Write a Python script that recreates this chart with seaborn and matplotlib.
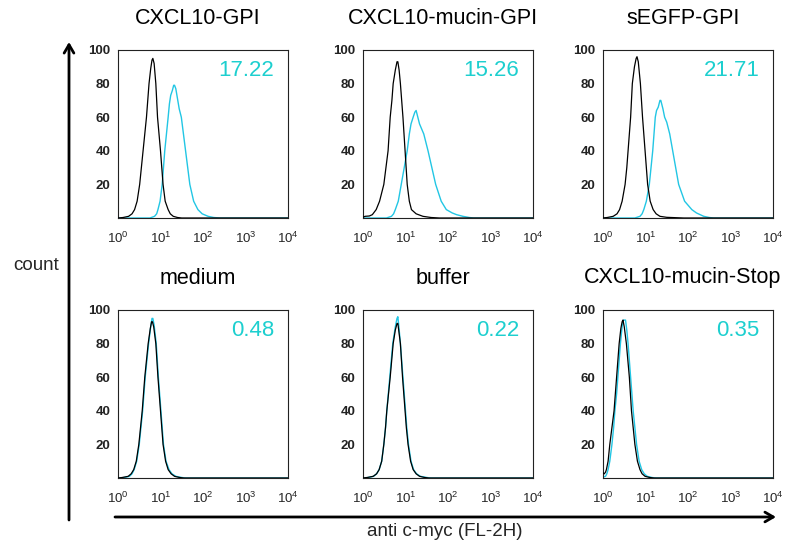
import numpy as np
import pandas as pd
import matplotlib
matplotlib.use("Agg")
import matplotlib.pyplot as plt
from matplotlib.ticker import FixedLocator, MultipleLocator, LogLocator, NullFormatter
import seaborn as sns

# ---------------- data ----------------
titles = ["CXCL10-GPI", "CXCL10-mucin-GPI", "sEGFP-GPI",
          "medium", "buffer", "CXCL10-mucin-Stop"]
percent_labels = ["17.22", "15.26", "21.71", "0.48", "0.22", "0.35"]

# control (black) histograms: log10(FL-2H) position and count
ctrl_logx = [
    [0.0, 0.12, 0.25, 0.33, 0.39, 0.45, 0.51, 0.55, 0.59, 0.63, 0.67, 0.70, 0.73, 0.77, 0.80, 0.82,
     0.85, 0.89, 0.91, 0.93, 0.965, 1.0, 1.03, 1.06, 1.11, 1.18, 1.23, 1.3, 1.4, 1.5, 4.0],
    [0.0, 0.05, 0.15, 0.22, 0.31, 0.39, 0.49, 0.54, 0.59, 0.615, 0.64, 0.68, 0.71, 0.76, 0.80, 0.82,
     0.85, 0.88, 0.91, 0.94, 0.965, 0.99, 1.015, 1.04, 1.09, 1.14, 1.25, 1.41, 1.6, 1.8, 4.0],
    [0.0, 0.1, 0.24, 0.33, 0.39, 0.45, 0.52, 0.56, 0.59, 0.62, 0.65, 0.67, 0.69, 0.74, 0.78, 0.80,
     0.83, 0.88, 0.905, 0.93, 0.96, 0.99, 1.02, 1.05, 1.11, 1.18, 1.25, 1.34, 1.5, 1.9, 4.0],
    [0.0, 0.1, 0.24, 0.31, 0.37, 0.43, 0.49, 0.53, 0.57, 0.60, 0.63, 0.67, 0.71, 0.76, 0.79, 0.81,
     0.84, 0.89, 0.915, 0.94, 0.97, 1.0, 1.03, 1.06, 1.12, 1.18, 1.25, 1.33, 1.45, 1.55, 4.0],
    [0.0, 0.1, 0.24, 0.32, 0.38, 0.44, 0.49, 0.53, 0.56, 0.60, 0.64, 0.675, 0.71, 0.76, 0.80, 0.82,
     0.84, 0.88, 0.905, 0.93, 0.96, 0.99, 1.02, 1.06, 1.12, 1.18, 1.25, 1.33, 1.45, 1.55, 4.0],
    [0.0, 0.03, 0.06, 0.08, 0.12, 0.16, 0.21, 0.26, 0.29, 0.32, 0.35, 0.38, 0.42, 0.45, 0.47,
     0.50, 0.55, 0.585, 0.62, 0.645, 0.67, 0.71, 0.75, 0.81, 0.87, 0.92, 0.99, 1.1, 1.2, 4.0],
]
ctrl_count = [
    [0, 0.3, 1, 2.5, 5, 10, 20, 30, 40, 50, 60, 70, 80, 89, 94, 95,
     92, 80, 70, 60, 50, 40, 30, 20, 10, 5, 2.5, 1, 0.3, 0, 0],
    [0.5, 1, 1.2, 2, 5, 10, 20, 30, 40, 50, 60, 70, 80, 88, 93, 93,
     88, 80, 70, 60, 50, 40, 30, 20, 10, 5, 2.5, 1, 0.3, 0, 0],
    [0, 0.3, 1, 2.5, 5, 10, 20, 30, 40, 50, 60, 70, 80, 90, 95, 96,
     93, 80, 70, 60, 50, 40, 30, 20, 10, 5, 2.5, 1, 0.4, 0, 0],
    [0, 0.3, 1, 2.5, 5, 10, 20, 30, 40, 50, 60, 70, 80, 89, 93, 93,
     90, 80, 70, 60, 50, 40, 30, 20, 10, 5, 2.5, 1, 0.3, 0, 0],
    [0, 0.3, 1, 2.5, 5, 10, 20, 30, 40, 50, 60, 70, 80, 88, 92, 92,
     88, 80, 70, 60, 50, 40, 30, 20, 10, 5, 2.5, 1, 0.3, 0, 0],
    [3, 2.5, 3.5, 5, 10, 20, 30, 40, 50, 60, 70, 80, 89, 93, 94,
     90, 80, 70, 60, 50, 40, 30, 20, 10, 5, 2.5, 1, 0.3, 0, 0],
]

# anti c-myc stained (cyan) histograms: log10(FL-2H) position and count
stain_logx = [
    [0.0, 0.75, 0.86, 0.91, 0.94, 0.99, 1.04, 1.07, 1.10, 1.14, 1.18, 1.21, 1.24, 1.28, 1.31, 1.33,
     1.36, 1.40, 1.44, 1.49, 1.54, 1.59, 1.64, 1.69, 1.78, 1.88, 1.98, 2.12, 2.25, 2.4, 4.0],
    [0.0, 0.55, 0.67, 0.72, 0.76, 0.83, 0.90, 0.97, 1.04, 1.09, 1.13, 1.18, 1.22, 1.25, 1.29, 1.33,
     1.38, 1.43, 1.48, 1.53, 1.62, 1.71, 1.84, 1.96, 2.1, 2.2, 2.35, 2.5, 2.6, 4.0],
    [0.0, 0.75, 0.87, 0.92, 0.96, 1.02, 1.09, 1.13, 1.17, 1.20, 1.23, 1.26, 1.30, 1.34, 1.36, 1.38,
     1.41, 1.45, 1.50, 1.57, 1.64, 1.71, 1.78, 1.92, 2.09, 2.2, 2.37, 2.5, 2.6, 4.0],
    [0.0, 0.15, 0.27, 0.33, 0.38, 0.44, 0.50, 0.54, 0.58, 0.61, 0.64, 0.68, 0.72, 0.77, 0.80, 0.82,
     0.85, 0.90, 0.925, 0.95, 0.98, 1.01, 1.04, 1.07, 1.13, 1.20, 1.27, 1.36, 1.5, 1.6, 4.0],
    [0.0, 0.12, 0.25, 0.32, 0.38, 0.44, 0.49, 0.53, 0.56, 0.595, 0.63, 0.665, 0.70, 0.76, 0.80, 0.82,
     0.845, 0.88, 0.91, 0.94, 0.97, 1.0, 1.03, 1.07, 1.13, 1.19, 1.26, 1.35, 1.5, 1.6, 4.0],
    [0.0, 0.06, 0.09, 0.12, 0.16, 0.21, 0.25, 0.28, 0.32, 0.35, 0.38, 0.41, 0.45, 0.48, 0.53,
     0.56, 0.59, 0.62, 0.65, 0.68, 0.71, 0.75, 0.79, 0.85, 0.91, 0.97, 1.04, 1.15, 1.25, 4.0],
]
stain_count = [
    [0, 0, 1, 2.5, 5, 10, 20, 30, 40, 50, 60, 68, 73, 76, 79, 79,
     77, 71, 65, 60, 50, 40, 30, 20, 10, 5, 2.5, 1, 0.3, 0, 0],
    [0, 0, 1, 2.5, 5, 10, 20, 30, 40, 50, 56, 60, 63, 64, 60, 56,
     53, 50, 45, 40, 30, 20, 10, 5, 3, 2, 1, 0.3, 0, 0],
    [0, 0, 1, 2.5, 5, 10, 20, 30, 40, 50, 60, 64, 66, 70, 70, 68,
     65, 60, 57, 50, 40, 30, 20, 10, 5, 3, 1, 0.3, 0, 0],
    [0, 0.3, 1, 2.5, 5, 10, 20, 30, 40, 50, 60, 70, 80, 90, 95, 95,
     91, 80, 70, 60, 50, 40, 30, 20, 10, 5, 2.5, 1, 0.3, 0, 0],
    [0, 0.3, 1, 2.5, 5, 10, 20, 30, 40, 50, 60, 70, 80, 90, 95, 96,
     90, 80, 70, 60, 50, 40, 30, 20, 10, 5, 2.5, 1, 0.3, 0, 0],
    [0.5, 1, 2.5, 5, 10, 20, 30, 40, 50, 60, 70, 80, 90, 94, 94,
     88, 80, 70, 60, 50, 40, 30, 20, 10, 5, 2.5, 1, 0.3, 0, 0],
]

y_ticks = [20, 40, 60, 80, 100]
x_decades = [0, 1, 2, 3, 4]

# ---------------- style ----------------
sns.set_style("white")
plt.rcParams["font.family"] = ["Liberation Sans", "DejaVu Sans"]
plt.rcParams["mathtext.default"] = "regular"

CYAN_LINE = "#22c6e4"
CYAN_TEXT = "#1dcfcf"

W, H = 790, 540
fig = plt.figure(figsize=(W / 100, H / 100), dpi=100)

lefts = [118, 363, 603]
tops = [50, 310]
aw, ah = 170, 168

for i in range(6):
    r, c = divmod(i, 3)
    ax = fig.add_axes([lefts[c] / W, 1 - (tops[r] + ah) / H, aw / W, ah / H])
    df_c = pd.DataFrame({"fl": [10 ** v for v in ctrl_logx[i]], "count": ctrl_count[i]})
    df_s = pd.DataFrame({"fl": [10 ** v for v in stain_logx[i]], "count": stain_count[i]})
    ax.set_xscale("log")
    sns.lineplot(data=df_s, x="fl", y="count", ax=ax, color=CYAN_LINE, lw=1.0,
                 estimator=None, sort=False, zorder=2)
    sns.lineplot(data=df_c, x="fl", y="count", ax=ax, color="black", lw=0.9,
                 estimator=None, sort=False, zorder=3)
    ax.set_xlim(1, 1e4)
    ax.set_ylim(0, 100)
    ax.set_xlabel("")
    ax.set_ylabel("")
    ax.xaxis.set_major_locator(FixedLocator([10 ** d for d in x_decades]))
    ax.xaxis.set_minor_locator(LogLocator(base=10, subs=np.arange(2, 10), numticks=20))
    ax.xaxis.set_minor_formatter(NullFormatter())
    ax.set_xticklabels([r"$10^{%d}$" % d for d in x_decades])
    ax.yaxis.set_major_locator(FixedLocator(y_ticks))
    ax.yaxis.set_minor_locator(MultipleLocator(5))
    ax.tick_params(axis="both", which="major", direction="out", length=3.5,
                   width=0.7, color="#333333", pad=2)
    ax.tick_params(axis="both", which="minor", direction="out", length=2,
                   width=0.6, color="#555555")
    ax.tick_params(axis="x", labelsize=9.5, pad=6)
    ax.tick_params(axis="y", labelsize=9.5)
    for lab in ax.get_yticklabels():
        lab.set_fontweight("bold")
        lab.set_color("#222222")
    for s in ax.spines.values():
        s.set_visible(True)
        s.set_color("#222222")
        s.set_linewidth(0.8)
    ax.text(0.47, 1 + 32 / ah, titles[i], transform=ax.transAxes,
            ha="center", va="center", fontsize=15.5, color="black")
    ax.text(0.92, 0.88, percent_labels[i], transform=ax.transAxes,
            ha="right", va="center", fontsize=16, color=CYAN_TEXT)

# big axis arrows
fig.add_artist(matplotlib.patches.FancyArrowPatch(
    (69 / W, 1 - 520 / H), (69 / W, 1 - 42 / H), transform=fig.transFigure,
    arrowstyle="->,head_length=6,head_width=3.5", lw=2, color="black",
    mutation_scale=1, shrinkA=0, shrinkB=0))
fig.add_artist(matplotlib.patches.FancyArrowPatch(
    (115 / W, 1 - 517 / H), (776 / W, 1 - 517 / H), transform=fig.transFigure,
    arrowstyle="->,head_length=6,head_width=3.5", lw=2, color="black",
    mutation_scale=1, shrinkA=0, shrinkB=0))

fig.text(36 / W, 1 - 265 / H, "count", ha="center", va="center", fontsize=13.5)
fig.text(445 / W, 1 - 531 / H, "anti c-myc (FL-2H)", ha="center", va="center", fontsize=13.5)

fig.savefig("out.png", dpi=100)
